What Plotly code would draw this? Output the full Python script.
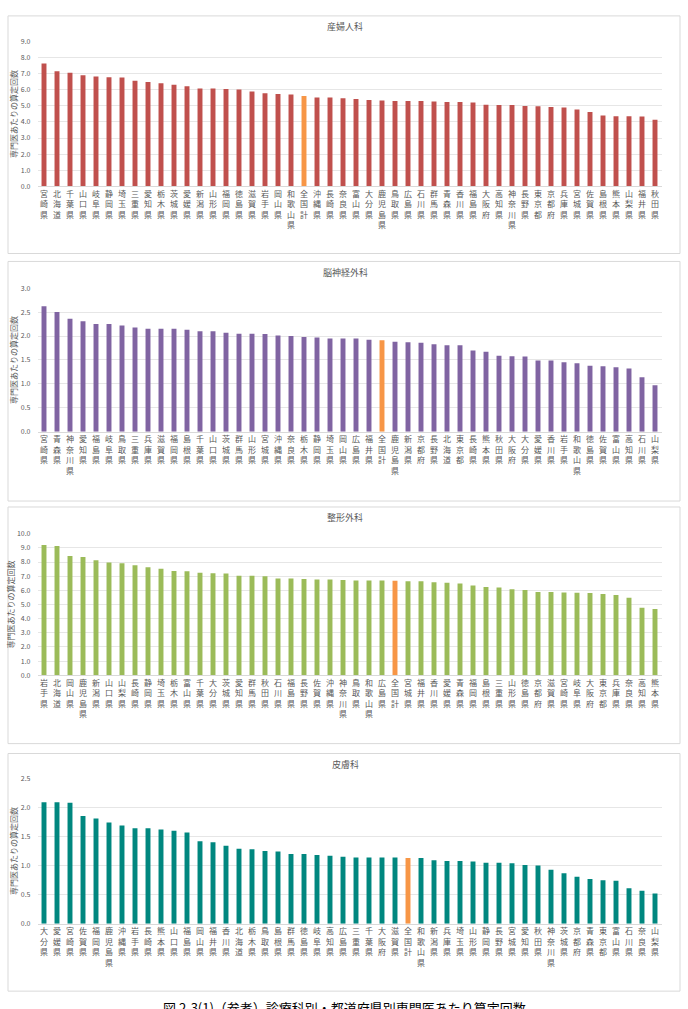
import plotly.graph_objects as go

# ---------------- data ----------------
obgyn_pref = ["宮崎県","北海道","千葉県","山口県","岐阜県","静岡県","埼玉県","三重県","愛知県","栃木県",
              "茨城県","愛媛県","新潟県","山形県","福岡県","徳島県","滋賀県","岩手県","岡山県","和歌山県",
              "全国計","沖縄県","長崎県","奈良県","富山県","大分県","鹿児島県","鳥取県","広島県","石川県",
              "群馬県","青森県","香川県","福島県","大阪府","高知県","神奈川県","長野県","東京都","京都府",
              "兵庫県","宮城県","佐賀県","島根県","熊本県","山梨県","福井県","秋田県"]
obgyn_val = [7.64,7.16,7.07,6.90,6.83,6.78,6.76,6.57,6.48,6.41,
             6.31,6.22,6.09,6.09,6.05,6.02,5.90,5.78,5.74,5.71,
             5.62,5.52,5.52,5.48,5.43,5.36,5.33,5.31,5.31,5.31,
             5.28,5.24,5.24,5.21,5.07,5.05,5.05,5.00,4.98,4.93,
             4.90,4.78,4.62,4.40,4.36,4.36,4.34,4.14]

neuro_pref = ["宮崎県","青森県","神奈川県","愛知県","福島県","岐阜県","鳥取県","三重県","兵庫県","滋賀県",
              "福岡県","島根県","千葉県","山口県","茨城県","群馬県","山形県","宮城県","沖縄県","奈良県",
              "栃木県","静岡県","埼玉県","岡山県","広島県","福井県","全国計","鹿児島県","新潟県","京都府",
              "長野県","北海道","東京都","長崎県","熊本県","秋田県","大阪府","大分県","愛媛県","香川県",
              "岩手県","和歌山県","徳島県","佐賀県","富山県","高知県","石川県","山梨県"]
neuro_val = [2.62,2.50,2.36,2.31,2.25,2.25,2.22,2.18,2.15,2.15,
             2.15,2.13,2.10,2.10,2.07,2.05,2.05,2.04,2.01,2.00,
             1.98,1.97,1.95,1.95,1.95,1.92,1.91,1.88,1.87,1.86,
             1.83,1.81,1.81,1.70,1.67,1.59,1.58,1.57,1.49,1.49,
             1.45,1.43,1.38,1.37,1.35,1.32,1.14,0.97]

ortho_pref = ["岩手県","北海道","岡山県","鹿児島県","新潟県","山口県","山梨県","長崎県","静岡県","埼玉県",
              "栃木県","富山県","千葉県","大分県","茨城県","愛知県","群馬県","秋田県","石川県","福島県",
              "長野県","佐賀県","沖縄県","神奈川県","鳥取県","和歌山県","広島県","全国計","宮城県","福井県",
              "香川県","愛媛県","青森県","福岡県","島根県","三重県","山形県","徳島県","京都府","滋賀県",
              "宮崎県","岐阜県","大阪府","東京都","兵庫県","奈良県","高知県","熊本県"]
ortho_val = [9.21,9.13,8.42,8.36,8.12,7.96,7.92,7.77,7.63,7.53,
             7.37,7.35,7.25,7.21,7.19,7.04,7.04,7.00,6.84,6.84,
             6.80,6.76,6.76,6.74,6.70,6.70,6.70,6.68,6.64,6.64,
             6.58,6.54,6.48,6.34,6.23,6.21,6.07,6.03,5.89,5.89,
             5.85,5.83,5.81,5.75,5.67,5.47,4.78,4.68]

derm_pref = ["大分県","愛媛県","宮崎県","佐賀県","福岡県","鹿児島県","沖縄県","岩手県","長崎県","熊本県",
             "山口県","福島県","岡山県","福井県","香川県","北海道","栃木県","鳥取県","島根県","群馬県",
             "徳島県","岐阜県","高知県","広島県","三重県","千葉県","大阪府","滋賀県","全国計","和歌山県",
             "新潟県","兵庫県","埼玉県","山形県","静岡県","長野県","宮城県","愛知県","秋田県","神奈川県",
             "茨城県","京都府","青森県","東京都","富山県","石川県","奈良県","山梨県"]
derm_val = [2.09,2.09,2.08,1.85,1.81,1.74,1.69,1.64,1.64,1.62,
            1.60,1.57,1.42,1.40,1.34,1.29,1.28,1.25,1.24,1.20,
            1.20,1.18,1.17,1.15,1.14,1.14,1.14,1.14,1.13,1.13,
            1.09,1.08,1.08,1.07,1.05,1.05,1.04,1.01,1.00,0.93,
            0.87,0.81,0.77,0.75,0.74,0.61,0.57,0.52]

titles = ["産婦人科", "脳神経外科", "整形外科", "皮膚科"]
y_max = [9.0, 3.0, 10.0, 2.5]
y_step = [1.0, 0.5, 1.0, 0.5]
y_title = "専門医あたりの算定回数"
caption = "図 2-3(1)（参考）診療科別・都道府県別専門医あたり算定回数"

# ---------------- styling / layout ----------------
H, W = 1009, 688
FONT = "Noto Sans CJK JP"
bar_colors = ["#C0504D", "#8064A2", "#9BBB59", "#00877F"]
highlight = "#F79646"

# pixel geometry for each panel: (box_top, box_bottom, plot_top, plot_bottom)
geo = [(10, 250, 36, 182), (258, 500, 285, 430), (506, 745, 533, 676), (755, 995, 780, 927)]

def py(p):
    return 1 - p / H

fig = go.Figure()
prefs = [obgyn_pref, neuro_pref, ortho_pref, derm_pref]
vals = [obgyn_val, neuro_val, ortho_val, derm_val]

layout = dict(
    width=W, height=H, margin=dict(l=0, r=0, t=0, b=0),
    paper_bgcolor="white", plot_bgcolor="white", showlegend=False,
    font=dict(family=FONT, color="#595959"), bargap=0.62,
)
shapes, annotations = [], []
x_dom = [37.5 / W, 661.5 / W]

for i in range(4):
    n = i + 1
    xa = "x" if n == 1 else f"x{n}"
    ya = "y" if n == 1 else f"y{n}"
    cols = [highlight if p == "全国計" else bar_colors[i] for p in prefs[i]]
    fig.add_trace(go.Bar(x=prefs[i], y=vals[i], marker=dict(color=cols, line=dict(width=0)),
                         xaxis=xa, yaxis=ya, hoverinfo="x+y"))
    bt, bb, pt, pb = geo[i]
    ticks = []
    v = 0.0
    while v <= y_max[i] + 1e-9:
        ticks.append(round(v, 2))
        v += y_step[i]
    layout["xaxis" if n == 1 else f"xaxis{n}"] = dict(
        domain=x_dom, anchor=ya, type="category",
        tickvals=prefs[i], ticktext=["<br>".join(p) for p in prefs[i]],
        tickangle=0, tickfont=dict(size=8, color="#595959", family=FONT),
        showgrid=False, showline=True, linecolor="#D9D9D9", ticks="", fixedrange=True,
    )
    layout["yaxis" if n == 1 else f"yaxis{n}"] = dict(
        domain=[py(pb), py(pt)], anchor=xa, range=[0, y_max[i]],
        tickvals=ticks, ticktext=[f"{t:.1f}" for t in ticks],
        tickfont=dict(size=7, color="#595959", family=FONT),
        showgrid=True, gridcolor="#E6E6E6", gridwidth=1, zeroline=False,
        showline=False, ticks="", ticklabelstandoff=6,
        title=dict(text=y_title, font=dict(size=8, color="#595959", family=FONT), standoff=1),
        fixedrange=True,
    )
    shapes.append(dict(type="rect", xref="paper", yref="paper",
                       x0=8 / W, x1=680 / W, y0=py(bb), y1=py(bt),
                       line=dict(color="#D9D9D9", width=1), fillcolor="rgba(0,0,0,0)", layer="below"))
    annotations.append(dict(text=titles[i], xref="paper", yref="paper", x=345 / W, y=py(bt + 11),
                            showarrow=False, xanchor="center", yanchor="middle",
                            font=dict(size=9, color="#595959", family=FONT)))

annotations.append(dict(text=caption, xref="paper", yref="paper", x=344 / W, y=py(1000),
                        showarrow=False, xanchor="center", yanchor="top",
                        font=dict(size=13, color="#000000", family=FONT)))
layout["shapes"] = shapes
layout["annotations"] = annotations
fig.update_layout(**layout)
fig.write_html("out.html")
